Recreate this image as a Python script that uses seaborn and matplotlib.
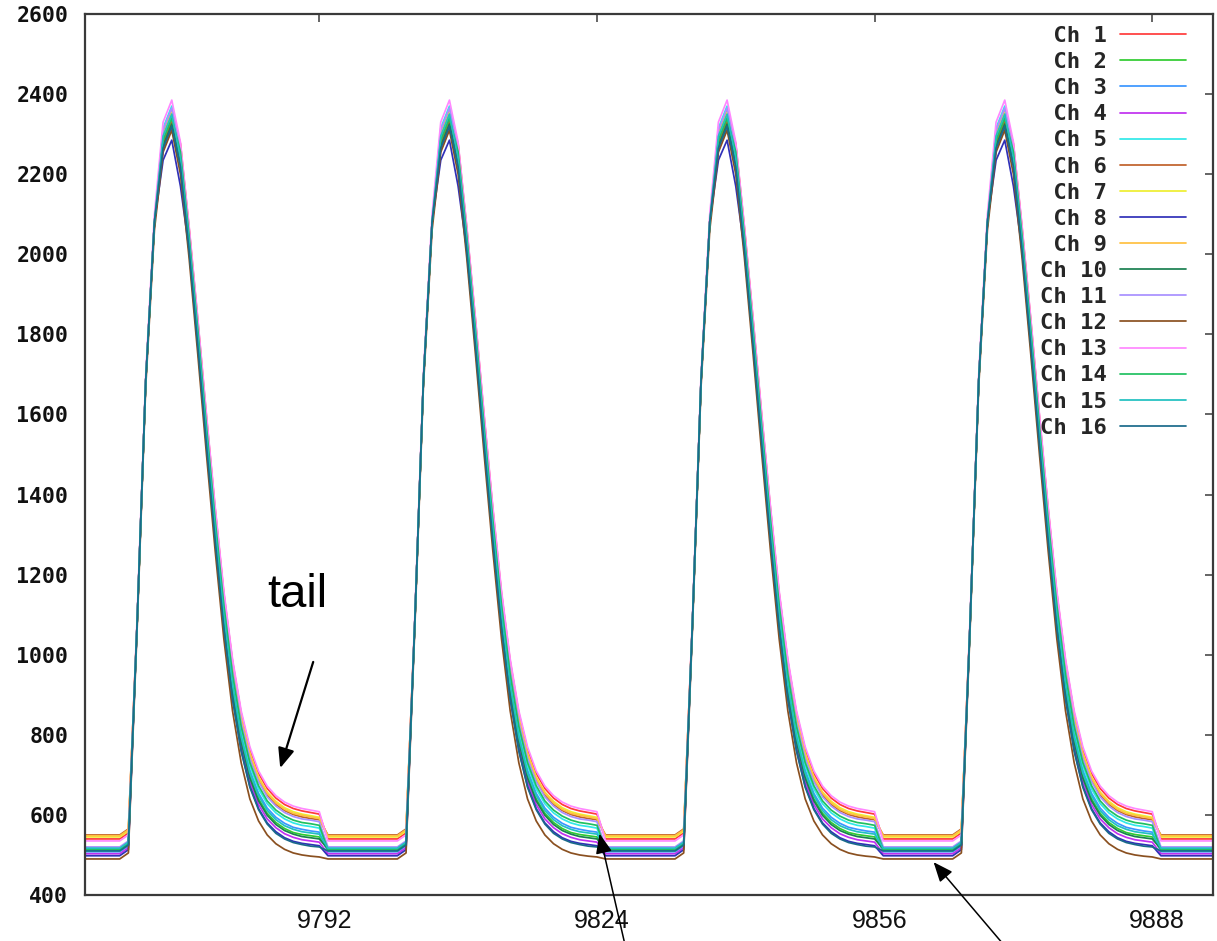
import numpy as np
import pandas as pd
import matplotlib
matplotlib.use("Agg")
import matplotlib.pyplot as plt
import matplotlib.transforms as mtransforms
import seaborn as sns

# ---------------- data ----------------
X_START, X_END = 9765, 9895          # sample range shown
CYCLE_START = 9770                   # first sample of a pulse cycle
CYCLE_LEN = 32                       # samples per cycle

# one pulse cycle per channel: samples 0..22 of the cycle, then flat baseline
CH01 = [555, 1075, 1685, 2080, 2305, 2360, 2276, 2066, 1836, 1595, 1365, 1154, 984, 854, 764, 704, 666, 642, 626, 616, 610, 606, 602]
CH02 = [527, 1075, 1685, 2080, 2280, 2335, 2235, 2025, 1790, 1544, 1308, 1093, 917, 787, 697, 640, 604, 581, 566, 556, 551, 548, 545]
CH03 = [523, 1075, 1685, 2080, 2290, 2345, 2244, 2034, 1800, 1555, 1320, 1106, 932, 802, 712, 654, 617, 594, 579, 569, 564, 560, 557]
CH04 = [518, 1075, 1685, 2080, 2260, 2315, 2226, 2016, 1780, 1533, 1296, 1080, 903, 773, 683, 626, 590, 568, 553, 544, 538, 535, 532]
CH05 = [525, 1075, 1685, 2080, 2315, 2370, 2251, 2041, 1808, 1564, 1330, 1117, 943, 813, 723, 665, 628, 605, 590, 580, 574, 571, 567]
CH06 = [565, 1075, 1685, 2080, 2275, 2330, 2266, 2056, 1824, 1582, 1350, 1138, 967, 837, 747, 688, 650, 626, 611, 601, 595, 591, 588]
CH07 = [560, 1075, 1685, 2080, 2300, 2355, 2270, 2060, 1829, 1588, 1357, 1146, 974, 844, 754, 695, 657, 634, 618, 608, 602, 598, 594]
CH08 = [513, 1075, 1685, 2080, 2235, 2285, 2170, 2010, 1772, 1525, 1288, 1070, 892, 762, 672, 616, 580, 558, 543, 534, 529, 526, 523]
CH09 = [563, 1075, 1685, 2080, 2295, 2350, 2268, 2058, 1827, 1585, 1354, 1142, 970, 840, 750, 691, 654, 630, 614, 604, 599, 595, 591]
CH10 = [530, 1075, 1685, 2080, 2270, 2325, 2232, 2022, 1786, 1540, 1304, 1088, 912, 782, 692, 635, 599, 576, 561, 552, 546, 543, 540]
CH11 = [535, 1075, 1685, 2080, 2310, 2365, 2262, 2052, 1820, 1578, 1346, 1134, 961, 831, 741, 683, 645, 622, 606, 596, 590, 587, 583]
CH12 = [505, 1060, 1670, 2060, 2255, 2310, 2200, 1990, 1750, 1500, 1260, 1040, 860, 730, 640, 585, 550, 528, 514, 505, 500, 497, 495]
CH13 = [550, 1090, 1700, 2100, 2330, 2385, 2280, 2070, 1840, 1600, 1370, 1160, 990, 860, 770, 710, 672, 648, 632, 622, 616, 612, 608]
CH14 = [528, 1075, 1685, 2080, 2285, 2340, 2256, 2046, 1813, 1570, 1337, 1124, 951, 821, 731, 673, 635, 612, 597, 587, 581, 578, 574]
CH15 = [532, 1075, 1685, 2080, 2295, 2350, 2240, 2030, 1795, 1550, 1315, 1100, 925, 795, 705, 648, 611, 588, 573, 564, 558, 555, 552]
CH16 = [525, 1075, 1685, 2080, 2265, 2320, 2218, 2008, 1770, 1522, 1284, 1066, 889, 759, 669, 613, 577, 554, 540, 531, 526, 522, 520]

BASELINE = [540, 512, 508, 503, 510, 550, 545, 498, 548, 515, 520, 490, 535, 513, 517, 510]

CHANNELS = ["Ch 1", "Ch 2", "Ch 3", "Ch 4", "Ch 5", "Ch 6", "Ch 7", "Ch 8",
            "Ch 9", "Ch 10", "Ch 11", "Ch 12", "Ch 13", "Ch 14", "Ch 15", "Ch 16"]
COLORS = ["#ff3a3a", "#30cc30", "#3a96ff", "#c030f0", "#30e8e8", "#c0602a",
          "#eeee30", "#3030b8", "#ffc040", "#1a8050", "#a890ff", "#8a5020",
          "#ff88ff", "#20c060", "#20c0c0", "#1a6a8a"]

X_TICKS = [9792, 9824, 9856, 9888]
Y_TICKS = [400, 600, 800, 1000, 1200, 1400, 1600, 1800, 2000, 2200, 2400, 2600]

# ---------------- build long-form table ----------------
pulses = [CH01, CH02, CH03, CH04, CH05, CH06, CH07, CH08,
          CH09, CH10, CH11, CH12, CH13, CH14, CH15, CH16]
xs = np.arange(X_START, X_END + 1)
rows = []
for name, pulse, base in zip(CHANNELS, pulses, BASELINE):
    cycle = list(pulse) + [base] * (CYCLE_LEN - len(pulse))
    for x in xs:
        rows.append((x, cycle[(x - CYCLE_START) % CYCLE_LEN], name))
df = pd.DataFrame(rows, columns=["sample", "value", "channel"])

# ---------------- figure ----------------
sns.set_theme(style="white")
W, H = 1217, 941
fig = plt.figure(figsize=(W / 100, H / 100), dpi=100)
L, R, T, B = 85, 1213, 14, 895
ax = fig.add_axes([L / W, 1 - B / H, (R - L) / W, (B - T) / H])

sns.lineplot(data=df, x="sample", y="value", hue="channel", hue_order=CHANNELS,
             palette=COLORS, estimator=None, sort=True, linewidth=1.25,
             legend=False, ax=ax)

ax.set_xlim(X_START, X_END)
ax.set_ylim(400, 2600)
ax.set_xticks(X_TICKS)
ax.set_yticks(Y_TICKS)
ax.set_xlabel("")
ax.set_ylabel("")

for s in ax.spines.values():
    s.set_color("#3a3a3a")
    s.set_linewidth(1.6)
ax.tick_params(axis="both", direction="in", length=6, width=1.1,
               color="#3a3a3a", top=True, right=True)
ax.tick_params(axis="y", pad=12)
ax.tick_params(axis="x", pad=10)

for lab in ax.get_yticklabels():
    lab.set_fontfamily("DejaVu Sans Mono")
    lab.set_fontweight("bold")
    lab.set_fontsize(15.5)
    lab.set_color("#111111")
shift = mtransforms.ScaledTranslation(5 / 100, 0, fig.dpi_scale_trans)
for lab in ax.get_xticklabels():
    lab.set_fontfamily("Liberation Sans")
    lab.set_fontsize(18)
    lab.set_color("#111111")
    lab.set_transform(lab.get_transform() + shift)

# legend (text on the left, sample line on the right)
labels = [(" " + c) if len(c) == 4 else c for c in CHANNELS]
leg = ax.legend(handles=ax.get_lines()[:16], labels=labels, loc="upper right",
                bbox_to_anchor=((1186 - L) / (R - L), (B - 26) / (B - T)),
                frameon=False, markerfirst=False, borderpad=0, borderaxespad=0,
                handlelength=2.97, handletextpad=0.6, labelspacing=0.275,
                prop={"family": "DejaVu Sans Mono", "weight": "bold", "size": 16})

# annotations
ax.text(9789.5, 1119, "tail", fontsize=34, family="Liberation Sans",
        ha="center", va="baseline", color="black")
ax.annotate("", xy=(9787.5, 717), xytext=(9791.3, 982),
            arrowprops=dict(arrowstyle="-|>,head_length=0.6,head_width=0.25",
                            color="black", lw=1.6, mutation_scale=20,
                            shrinkA=0, shrinkB=0))
ax.annotate("", xy=(9824.3, 553), xytext=(9827.4, 260), annotation_clip=False,
            arrowprops=dict(arrowstyle="-|>,head_length=0.6,head_width=0.25",
                            color="black", lw=1.1, mutation_scale=20,
                            shrinkA=0, shrinkB=0))
ax.annotate("", xy=(9862.8, 482), xytext=(9871.3, 265), annotation_clip=False,
            arrowprops=dict(arrowstyle="-|>,head_length=0.6,head_width=0.25",
                            color="black", lw=1.1, mutation_scale=20,
                            shrinkA=0, shrinkB=0))

fig.savefig("out.png", dpi=100)
